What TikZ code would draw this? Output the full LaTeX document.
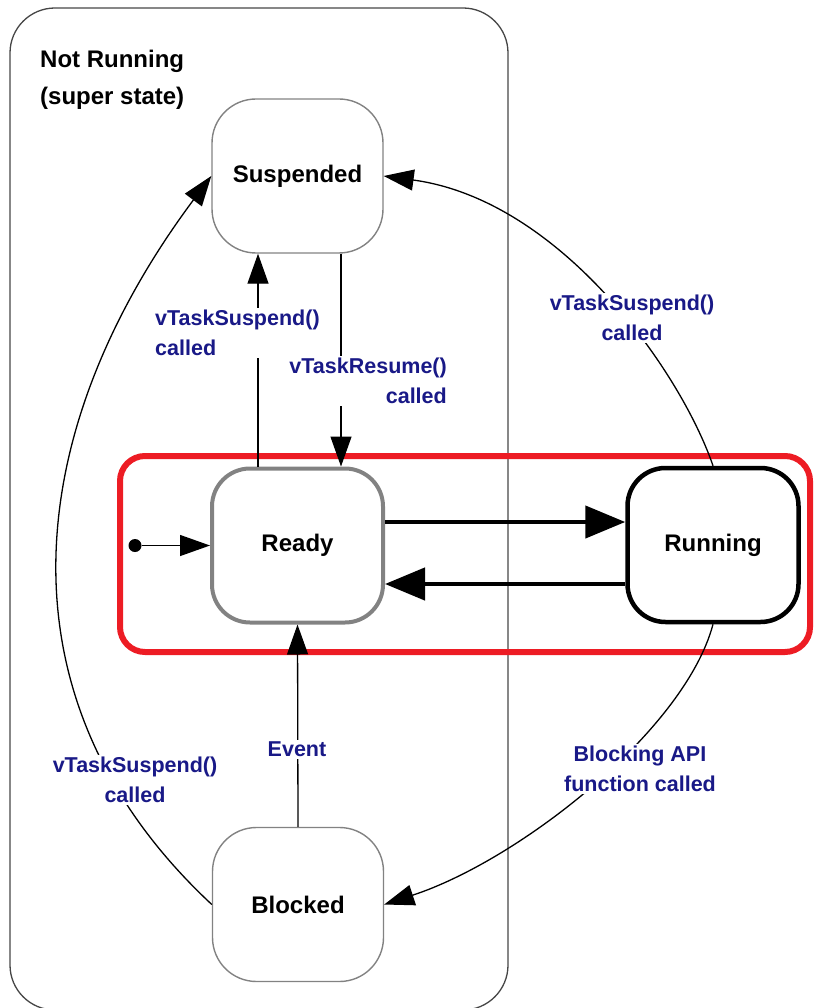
\documentclass[tikz,border=0pt]{standalone}
\usepackage{fontspec}
\setmainfont{Liberation Sans}
\usetikzlibrary{arrows.meta}
\definecolor{labelblue}{RGB}{25,25,135}
\definecolor{framegray}{RGB}{70,70,70}
\definecolor{stategray}{RGB}{130,130,130}
\definecolor{groupred}{RGB}{237,28,36}
\begin{document}
\begin{tikzpicture}[x=1pt,y=-1pt,
  statebox/.style={draw=stategray, line width=1.4pt, rounded corners=44pt,
    minimum width=171pt, minimum height=154pt, inner sep=0pt,
    font=\fontsize{24}{28}\selectfont\bfseries},
  readybox/.style={statebox, line width=4pt, rounded corners=38pt},
  runbox/.style={statebox, draw=black, line width=4.5pt, rounded corners=38pt},
  lbl/.style={font=\fontsize{21.5}{30}\selectfont\bfseries, text=labelblue,
    fill=white, inner sep=2pt},
  thinarrow/.style={line width=1.3pt, -{Triangle[length=30pt,width=21pt]}},
  thickarrow/.style={line width=4.5pt, -{Triangle[length=40pt,width=32pt]}}
]
\useasboundingbox (0,0) rectangle (813,1008);

% super state frame and highlighted region
\draw[framegray, line width=1.3pt, rounded corners=45pt] (10,8) rectangle (508,1010);
\draw[groupred, line width=6pt, rounded corners=25pt] (120,456) rectangle (810,652);

\node[anchor=north west, inner sep=0pt, align=left,
      font=\fontsize{24}{37}\selectfont\bfseries] (title) at (40,50)
  {Not Running\\(super state)};

% states
\node[statebox] (suspended) at (297.5,176) {Suspended};
\node[readybox] (ready) at (297.5,545.5) {Ready};
\node[runbox] (running) at (713,545) {Running};
\node[statebox] (blocked) at (298,904.5) {Blocked};
\node[circle, fill=black, minimum size=13pt, inner sep=0pt] (init) at (135,545.5) {};

% transitions
\draw[thinarrow] (init) -- (ready);
\draw[thinarrow] ([xshift=-39.5pt]ready.north) -- ([xshift=-39.5pt]suspended.south);
\draw[thinarrow] ([xshift=43.5pt]suspended.south) -- ([xshift=43.5pt]ready.north);
\draw[thickarrow] ([yshift=23.5pt]ready.east) -- ([yshift=23.5pt]ready.east -| running.west);
\draw[thickarrow] ([yshift=-39pt]running.west) -- ([yshift=-39pt]running.west -| ready.east);
\draw[thinarrow] (blocked.north) -- (ready.south);
\draw[thinarrow] (running.north) .. controls (680,370) and (560,200) .. (suspended.east);
\draw[thinarrow] (running.south) .. controls (685,730) and (520,860) .. (blocked.east);
\draw[thinarrow] (blocked.west) .. controls (-13,695) and (27,423) .. (suspended.west);

% transition labels
\node[lbl, anchor=west, align=left] (l1) at (153,333) {vTaskSuspend()\\called};
\node[lbl, anchor=east, align=right] (l2) at (449,381) {vTaskResume()\\called};
\node[lbl, align=center] (l3) at (632,318) {vTaskSuspend()\\called};
\node[lbl] (l4) at (297,749) {Event};
\node[lbl, align=center] (l5) at (135,780) {vTaskSuspend()\\called};
\node[lbl, align=center] (l6) at (640,769) {Blocking API\\function called};
\end{tikzpicture}
\end{document}
